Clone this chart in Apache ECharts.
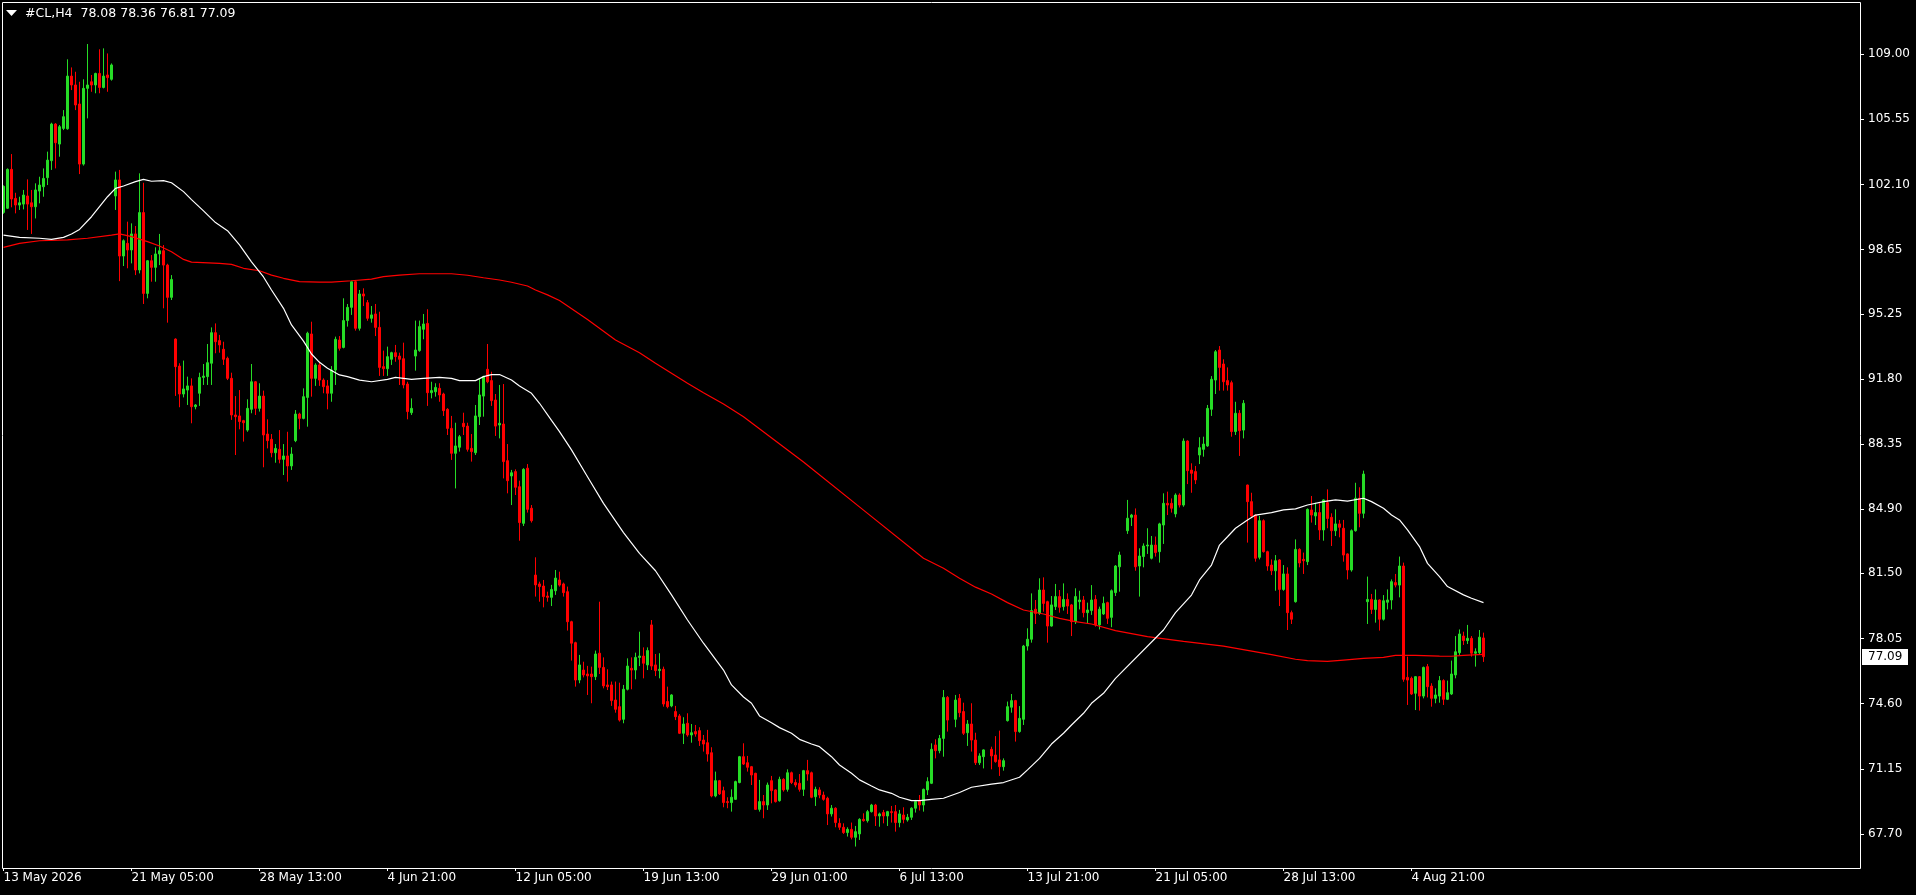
<!DOCTYPE html>
<html>
<head>
<meta charset="utf-8">
<title>#CL,H4</title>
<script src="https://cdn.jsdelivr.net/npm/echarts@6/dist/echarts.min.js"></script>
<style>
  html, body { margin: 0; padding: 0; background: #000; overflow: hidden; }
  #chart { width: 1916px; height: 895px; }
</style>
</head>
<body>
<div id="chart"></div>
<script>
var symbolTitle = '#CL,H4  78.08 78.36 76.81 77.09';
var slotCount = 465;      // bar slots across the plot, the right part stays empty
var xTickEvery = 32;      // one time label every 32 bars
var xTickLabels = ['13 May 2026', '21 May 05:00', '28 May 13:00', '4 Jun 21:00', '12 Jun 05:00',
    '19 Jun 13:00', '29 Jun 01:00', '6 Jul 13:00', '13 Jul 21:00', '21 Jul 05:00',
    '28 Jul 13:00', '4 Aug 21:00'];
var yTicks = [67.70, 71.15, 74.60, 78.05, 81.50, 84.90, 88.35, 91.80, 95.25, 98.65, 102.10, 105.55, 109.00];
var yMin = 65.894, yMax = 111.712;

// H4 bars: [open, high, low, close], null where no bar is drawn
var bars = [
    [100.62,102.05,100.55,102.00],[100.84,102.95,100.80,102.90],[102.90,103.71,100.89,101.33],[101.36,101.66,100.57,101.01],
    [101.01,101.45,100.75,101.13],[101.06,101.81,100.78,101.54],[101.49,102.37,99.69,101.06],[101.13,101.81,99.48,100.92],
    [100.92,102.16,100.30,101.81],[101.75,102.51,101.10,102.07],// 9
    [101.98,102.95,101.45,102.42],[102.46,103.84,102.07,103.39],[103.36,105.37,102.87,105.30],[105.30,105.35,102.95,104.31],
    [104.24,105.25,103.57,105.16],[105.07,106.04,104.98,105.69],[105.05,108.73,105.00,107.84],[107.84,108.30,107.10,107.37],
    [107.37,108.07,106.04,106.31],[106.36,107.54,102.65,103.18],// 19
    [103.18,107.67,103.10,107.19],[107.19,109.54,105.60,107.37],[107.54,107.90,107.01,107.37],[107.37,108.02,106.93,107.98],
    [107.98,109.26,106.93,107.24],[107.24,109.31,107.19,107.84],[107.90,109.04,107.01,107.76],[107.67,108.51,107.60,108.43],
    [101.49,102.78,100.75,102.34],[102.34,102.87,96.98,98.31],// 29
    [98.31,99.19,97.78,99.12],[98.98,100.13,97.66,98.63],[98.63,100.04,97.92,99.48],[99.48,99.90,97.30,97.57],
    [97.57,102.69,97.39,100.61],[100.61,102.19,95.77,96.33],[96.33,98.10,96.07,98.06],[98.06,98.36,96.95,97.71],
    [97.71,98.77,96.95,98.42],[98.42,99.48,97.83,98.59],// 39
    [98.59,98.89,95.54,97.83],[97.83,97.90,94.78,96.12],[96.12,97.30,95.98,97.07],[93.91,93.95,90.90,92.45],
    [92.48,92.63,90.30,91.00],[91.00,92.77,90.82,91.27],[91.21,91.92,90.42,91.43],[91.43,91.83,89.45,90.33],
    [90.33,90.47,90.19,90.42],[91.04,92.13,90.37,91.88],// 49
    [91.88,92.59,91.48,91.95],[91.92,93.65,91.48,92.66],[92.63,94.53,91.48,94.25],[94.25,94.74,93.16,93.77],
    [93.83,94.13,93.19,93.60],[93.37,93.77,92.54,92.84],[92.89,92.98,91.74,91.83],[91.83,92.13,89.63,89.89],
    [89.89,90.89,87.77,89.80],[89.84,91.21,89.13,89.54],// 59
    [89.59,89.63,88.48,89.48],[89.09,90.72,89.00,90.24],[90.19,92.59,89.98,91.65],[91.65,91.69,89.89,90.24],
    [90.24,91.57,90.07,90.89],[90.89,91.18,87.12,88.83],[88.88,89.66,88.12,88.53],[88.60,88.88,87.65,87.89],
    [87.89,88.35,87.36,88.12],[88.07,89.09,87.33,87.54],// 69
    [87.54,88.35,86.71,87.72],[87.72,89.00,86.36,87.19],[87.19,88.18,86.98,87.82],[88.53,90.15,88.45,89.94],
    [89.94,90.01,89.13,89.71],[89.71,91.30,89.66,90.86],[90.82,94.30,89.27,94.22],[94.18,94.83,90.86,91.83],
    [91.83,92.63,91.43,92.54],[92.54,92.72,91.43,91.74],// 79
    [91.74,91.83,91.04,91.39],[91.43,91.74,90.19,91.04],[91.04,92.48,90.59,92.27],[92.27,94.04,91.48,93.90],
    [93.86,94.07,93.30,93.42],[93.47,96.07,93.42,94.89],[94.89,95.77,94.57,95.59],[95.59,97.00,95.19,96.95],
    [96.95,97.04,94.36,94.48],[94.48,96.51,94.36,96.30],// 89
    [96.30,96.60,95.66,96.19],[95.84,95.98,94.88,95.01],[95.01,95.66,94.78,95.19],[95.24,95.77,94.07,94.53],
    [94.53,95.36,91.96,92.41],[92.45,93.30,91.96,92.34],[92.34,93.51,91.96,92.98],[92.84,93.24,92.54,93.19],
    [93.19,93.60,92.71,92.98],[93.01,93.19,91.48,92.84],// 99
    [92.87,93.72,91.30,91.48],[91.53,91.65,89.66,90.07],[90.01,90.77,89.89,90.24],[93.01,94.89,92.24,93.33],
    [93.30,94.89,93.24,94.57],[94.43,95.24,93.90,94.71],[94.74,95.49,90.37,91.07],[91.07,91.65,90.77,91.18],
    [91.12,91.57,90.86,91.35],[91.30,91.57,90.59,90.95],// 109
    [91.00,91.07,89.84,90.12],[90.19,90.25,88.83,89.18],[89.18,89.84,87.51,87.86],[87.86,89.48,86.00,88.25],
    [88.18,88.83,87.95,88.74],[89.45,90.01,88.83,89.27],[89.30,89.48,87.95,88.07],[88.12,88.88,87.42,87.95],
    [87.89,90.42,87.77,89.84],[89.80,91.83,89.36,90.95],// 119
    [90.89,91.97,89.80,91.92],[92.31,93.65,91.57,91.65],[91.71,92.18,90.37,90.65],[90.68,91.00,88.78,89.30],
    [89.36,91.48,88.65,89.45],[89.41,91.53,86.53,87.42],[87.47,88.35,85.74,86.41],[86.66,86.98,85.12,86.83],
    [86.89,87.01,85.65,86.06],[86.09,86.41,83.23,84.19],// 129
    [84.15,87.07,84.01,87.01],[87.07,87.29,84.72,84.89],[84.95,85.12,84.19,84.29],[81.41,82.35,80.27,80.89],
    [80.94,81.06,80.00,80.80],[80.83,81.15,79.70,80.27],[80.30,80.53,80.00,80.23],[80.23,80.89,79.77,80.65],
    [80.58,81.68,80.36,81.25],[81.15,81.59,80.80,80.88],// 139
    [80.94,81.01,80.27,80.48],[80.53,80.80,78.47,78.94],[78.94,78.99,76.88,77.80],[77.83,77.88,75.50,75.85],
    [75.85,77.18,75.68,76.65],[76.38,76.82,75.99,76.12],[76.17,76.60,75.06,76.07],[76.17,76.56,74.62,76.03],
    [76.03,77.41,75.85,77.23],[77.27,80.00,76.17,76.52],// 149
    [76.52,77.05,75.41,75.54],[75.59,76.42,75.32,75.50],[75.59,75.77,74.48,74.76],[74.79,75.77,74.12,74.30],
    [74.44,75.71,73.65,73.73],[73.77,75.59,73.56,75.36],[75.36,77.00,75.30,76.59],[76.47,77.05,75.36,76.38],
    [76.38,77.30,75.89,77.05],[77.05,78.41,76.59,77.12],// 159
    [77.12,77.58,75.94,76.74],[76.65,77.58,76.38,77.41],[78.77,79.03,76.38,76.59],[76.65,77.23,76.06,76.35],
    [76.35,77.27,75.94,76.42],[76.42,76.56,74.44,74.58],[74.71,75.50,74.35,74.44],[74.48,75.10,74.41,75.06],
    [74.18,74.48,73.73,73.91],[73.95,74.05,72.99,73.03],// 169
    [73.03,73.88,72.46,73.52],[73.56,74.09,72.85,72.94],[72.94,73.52,72.53,73.06],[73.12,73.47,72.85,72.99],
    [73.17,73.35,72.36,72.64],[72.67,72.94,72.06,72.46],[72.53,73.21,71.53,71.93],[72.00,72.29,69.64,69.71],
    [69.71,71.00,69.64,70.52],[70.52,70.56,69.76,69.82],// 179
    [69.99,70.20,69.11,69.36],[69.41,69.64,69.06,69.36],[69.36,70.06,68.88,69.64],[69.53,70.52,69.50,70.47],
    [70.42,71.83,70.38,71.79],[71.79,72.50,71.35,71.40],[71.47,71.83,71.00,71.23],[71.26,71.30,70.29,70.82],
    [70.91,70.94,68.97,69.00],[69.00,70.56,68.88,69.41],// 189
    [69.41,69.76,68.53,69.23],[69.23,70.42,68.97,70.29],[70.52,70.77,69.32,69.99],[70.03,70.06,69.36,69.41],
    [69.46,70.73,69.41,70.59],[70.59,70.65,69.94,70.03],[70.06,71.12,69.94,70.94],[70.94,71.00,70.34,70.42],
    [70.42,70.59,70.17,70.29],[70.38,70.87,69.94,70.06],// 199
    [70.06,71.09,69.71,71.05],[71.05,71.62,70.52,70.87],[70.94,71.00,69.59,69.64],[69.67,70.20,69.18,70.06],
    [70.03,70.17,69.59,69.76],[69.76,69.94,69.46,69.53],[69.59,69.67,68.17,68.76],[68.76,69.23,68.62,69.06],
    [69.06,69.11,68.05,68.30],[68.26,68.53,67.91,68.05],// 209
    [68.05,68.26,67.70,67.77],[67.77,68.05,67.56,67.94],[67.94,68.30,67.41,67.52],[67.52,68.12,67.03,67.82],
    [67.70,68.53,67.38,68.47],[68.47,68.79,68.35,68.40],[68.40,68.97,68.30,68.88],[68.88,69.29,68.83,69.23],
    [69.23,69.29,68.12,68.65],[68.65,68.83,68.08,68.76],// 219
    [68.83,68.97,68.26,68.65],[68.65,68.92,68.12,68.88],[68.88,69.18,68.30,68.83],[68.88,69.23,67.82,68.30],
    [68.30,68.97,68.05,68.76],[68.70,69.11,68.26,68.47],[68.44,68.76,68.35,68.58],[68.58,69.11,68.44,69.06],
    [69.06,69.50,68.83,69.41],[69.46,69.76,68.94,69.23],// 229
    [69.23,70.10,68.88,70.06],[70.03,70.70,69.76,70.47],[70.38,72.50,70.34,72.18],[72.41,72.71,71.70,72.11],
    [72.11,72.94,71.97,72.76],[72.76,75.32,71.79,74.93],[74.93,75.00,73.12,73.73],null,
    [73.77,75.06,73.35,74.79],[74.88,75.11,73.88,74.12],// 239
    [74.18,74.65,72.94,73.03],[73.06,73.73,72.36,73.52],[73.52,74.62,72.06,72.67],[72.67,73.06,71.35,71.47],
    [71.47,71.97,71.35,71.83],[71.79,72.18,71.17,72.15],null,[72.18,72.32,71.12,71.83],
    [71.88,72.88,71.47,71.53],[71.62,73.17,70.77,71.26],// 249
    [71.26,71.70,71.05,71.58],[73.70,74.71,73.65,74.44],[74.41,75.11,74.12,74.76],[74.76,74.80,72.59,73.12],
    [73.12,74.47,73.06,73.82],[73.77,77.71,73.47,77.65],[77.65,78.59,77.41,78.01],[78.01,80.44,77.83,79.53],
    [79.60,80.09,78.82,79.38],[79.38,81.24,79.30,80.62],// 259
    [80.62,81.29,79.47,79.91],[80.00,80.05,77.83,78.71],[78.71,80.30,78.68,79.83],[79.74,80.94,79.56,80.27],
    [80.27,80.62,79.42,79.70],[79.74,80.97,79.53,80.12],[80.12,80.44,79.35,79.77],[79.83,79.88,78.18,78.94],
    [78.94,80.71,78.82,80.27],[80.00,80.58,79.59,80.09],// 269
    [80.09,80.30,79.17,79.42],[79.42,79.95,78.85,79.56],[79.53,80.88,79.30,80.09],[80.12,80.35,78.68,78.77],
    [78.77,79.74,78.53,79.60],[79.35,80.27,79.30,79.91],[79.95,80.00,78.82,79.12],[79.17,80.65,78.65,80.58],
    [80.48,81.94,80.30,81.89],[81.85,82.65,80.53,82.47],// 279
    null,[83.76,85.39,83.59,84.42],[84.47,84.65,84.01,84.59],[84.59,84.94,81.64,81.85],
    [81.89,82.83,80.27,82.42],[82.39,83.09,81.82,82.95],[82.95,83.89,82.53,83.00],[82.30,83.48,82.24,83.00],
    [83.00,83.45,82.39,82.60],[82.65,84.18,82.07,84.12],// 289
    [84.06,85.74,83.06,85.21],[85.21,85.83,84.59,85.12],[85.21,85.47,84.72,84.95],[84.65,85.74,84.47,85.65],
    [85.65,85.74,84.99,85.12],[85.12,88.65,85.03,88.51],[88.51,88.55,86.23,86.94],[86.97,87.33,85.77,86.80],
    [86.89,87.19,86.23,86.45],[87.77,88.71,87.29,88.16],// 299
    [88.07,88.74,87.68,88.35],[88.25,90.42,88.20,90.24],[90.19,91.95,89.84,91.78],[91.74,93.33,91.00,93.24],
    [93.33,93.54,91.18,92.41],[92.59,92.84,91.18,91.65],[91.71,92.41,91.18,91.48],[91.60,91.71,88.74,89.01],
    [89.01,90.59,88.83,89.98],[89.98,90.15,87.72,89.06],// 309
    [89.09,90.68,88.65,90.51],[86.18,86.20,83.13,85.30],[85.30,85.77,84.50,84.54],[84.59,84.62,82.12,82.30],
    [82.35,84.54,82.24,84.29],[84.29,84.36,82.60,82.65],[82.65,82.70,81.64,81.89],[81.94,82.24,81.41,81.64],
    [81.64,82.47,80.58,82.17],[82.21,82.25,79.77,80.65],// 319
    [80.65,81.94,80.58,81.47],[81.47,81.82,78.50,79.42],[79.42,79.53,78.82,79.07],[80.00,83.30,79.95,82.77],
    [82.77,82.83,81.82,82.05],[82.24,82.60,81.47,82.17],[82.12,84.94,81.94,84.89],[84.86,85.60,84.19,84.59],
    [84.54,85.24,84.06,84.72],[84.72,85.21,83.27,83.80],// 329
    [83.80,85.42,83.23,85.39],[85.24,85.95,83.89,84.41],[84.47,84.68,82.95,83.76],[83.76,84.89,83.48,84.12],
    [84.12,84.33,83.41,83.94],[83.89,84.33,82.12,82.47],[82.53,82.56,81.18,81.68],[81.68,83.83,81.59,83.76],
    [83.76,86.30,83.71,85.48],[85.48,86.06,83.94,84.68],// 339
    [84.68,86.94,84.42,86.76],[80.00,81.33,78.82,80.12],[80.12,80.41,79.35,79.59],[79.59,80.65,78.89,80.09],
    [80.09,80.12,78.47,79.07],[79.07,80.35,79.00,80.05],[79.97,80.65,79.59,80.09],[80.09,81.18,79.59,81.06],
    [81.01,81.47,80.76,80.88],[80.88,82.39,80.23,81.89],// 349
    [81.89,82.07,75.76,75.89],[75.99,77.09,74.53,75.85],[75.94,76.03,75.06,75.11],[75.15,76.06,74.26,76.03],
    [76.03,76.06,74.23,75.00],[75.00,76.56,74.88,76.52],[76.56,76.70,74.93,75.50],[75.53,75.68,74.44,74.88],
    [74.88,75.41,74.62,75.06],[75.00,76.06,74.65,75.82],// 359
    [75.82,75.89,74.53,74.83],[74.83,75.82,74.79,75.18],[75.11,76.88,75.06,76.17],[76.12,78.18,75.94,77.35],
    [77.30,78.53,77.18,78.29],[78.18,78.41,77.71,77.94],[77.94,78.77,77.76,78.06],[78.06,78.18,77.09,77.27],
    [77.27,77.53,76.56,77.35],[77.30,78.50,77.23,78.12],// 369
    [78.08,78.36,76.81,77.09]
];

// white moving average, read at [bar, price]
var maFast = [
    [0,99.42],[4,99.30],[9,99.25],[12,99.19],[15,99.30],[17,99.48],[19,99.72],[22,100.39],[24,100.92],
    [26,101.45],[28,101.89],[30,102.02],[33,102.25],[35,102.37],[37,102.27],[40,102.30],[42,102.19],
    [45,101.72],[47,101.30],[50,100.70],[53,100.08],[56,99.65],[59,98.90],[62,98.00],[65,97.20],
    [67,96.51],[70,95.54],[72,94.66],[75,93.80],[77,93.12],[79,92.68],[81,92.36],[84,92.01],[86,91.92],
    [89,91.74],[92,91.65],[96,91.78],[98,91.88],[102,91.78],[105,91.83],[109,91.88],[112,91.83],
    [114,91.71],[118,91.71],[120,91.92],[122,92.03],[124,92.03],[127,91.74],[129,91.42],[132,91.04],
    [134,90.51],[137,89.60],[139,89.01],[142,88.04],[146,86.62],[150,85.21],[155,83.66],[159,82.56],
    [163,81.64],[167,80.36],[171,79.03],[175,77.80],[180,76.38],[182,75.59],[185,74.95],[187,74.62],
    [189,73.95],[192,73.59],[194,73.33],[197,73.03],[199,72.71],[202,72.46],[204,72.32],[207,71.79],
    [209,71.35],[212,70.91],[214,70.56],[217,70.24],[219,70.03],[222,69.85],[224,69.64],[227,69.46],
    [229,69.46],[232,69.53],[235,69.59],[239,69.89],[242,70.17],[247,70.34],[250,70.42],[254,70.70],
    [256,71.09],[259,71.70],[262,72.46],[265,73.03],[267,73.47],[270,74.09],[272,74.62],[275,75.15],
    [278,75.94],[290,78.50],[293,79.42],[297,80.35],[299,81.15],[302,81.94],[304,83.00],[306,83.44],
    [308,83.89],[311,84.33],[313,84.59],[317,84.72],[320,84.86],[323,84.92],[326,85.12],[330,85.30],
    [333,85.39],[336,85.33],[340,85.48],[342,85.30],[345,84.95],[347,84.59],[349,84.33],[351,83.80],
    [354,82.92],[356,82.03],[359,81.33],[361,80.80],[365,80.36],[367,80.18],[370,79.95]
];

// red moving average, read at [bar, price]
var maSlow = [
    [0,98.77],[4,98.98],[9,99.12],[16,99.16],[21,99.25],[27,99.42],[29,99.48],[32,99.34],[36,99.07],
    [39,98.84],[42,98.54],[45,98.13],[47,97.99],[54,97.92],[57,97.87],[60,97.66],[64,97.53],[67,97.30],
    [70,97.13],[74,96.95],[79,96.93],[82,96.93],[87,97.00],[92,97.09],[95,97.22],[99,97.30],[104,97.37],
    [112,97.37],[116,97.29],[120,97.16],[124,97.04],[127,96.92],[131,96.72],[133,96.51],[136,96.25],
    [139,95.95],[146,94.95],[153,93.86],[159,93.19],[163,92.63],[167,92.10],[171,91.57],[175,91.07],
    [180,90.47],[185,89.80],[200,87.40],[215,84.85],[230,82.30],[235,81.77],[239,81.24],[243,80.77],
    [247,80.41],[251,79.95],[255,79.56],[260,79.35],[264,79.12],[268,78.94],[272,78.82],[278,78.47],
    [286,78.15],[295,77.90],[305,77.65],[317,77.20],[323,76.95],[326,76.88],[331,76.84],[335,76.91],
    [340,77.00],[345,77.05],[348,77.16],[353,77.16],[359,77.12],[362,77.11],[365,77.16],[370,77.21]
];

var upColor = '#26dc26';
var downColor = '#ff0000';
var font = 'DejaVu Sans';

var slots = [];
for (var s = 0; s < slotCount; s++) slots.push(String(s));

// echarts wants [open, close, low, high]
var candleData = bars.map(function (b) {
    return b ? [b[0], b[3], b[2], b[1]] : ['-', '-', '-', '-'];
});

function isTimeTick(index) {
    return index % xTickEvery === 0 && index / xTickEvery < xTickLabels.length;
}

var chart = echarts.init(document.getElementById('chart'));
chart.setOption({
    backgroundColor: '#000',
    animation: false,
    grid: { left: 1.5, top: 3, width: 1860, height: 865 },
    xAxis: {
        type: 'category',
        data: slots,
        boundaryGap: true,
        axisLine: { show: false },
        axisTick: {
            show: true, alignWithLabel: true, interval: isTimeTick, length: 3,
            lineStyle: { color: '#fff' }
        },
        axisLabel: {
            interval: isTimeTick,
            formatter: function (v, index) { return xTickLabels[index / xTickEvery] || ''; },
            color: '#fff', fontFamily: font, fontSize: 12, align: 'left', margin: 4
        },
        splitLine: { show: false }
    },
    yAxis: {
        type: 'value',
        position: 'right',
        offset: -1.5,
        min: yMin,
        max: yMax,
        scale: true,
        axisLine: { show: false },
        axisTick: { show: true, length: 4, customValues: yTicks, lineStyle: { color: '#fff' } },
        axisLabel: {
            customValues: yTicks,
            formatter: function (v) { return v.toFixed(2); },
            color: '#fff', fontFamily: font, fontSize: 12, margin: 8
        },
        splitLine: { show: false }
    },
    series: [
        {
            type: 'candlestick',
            data: candleData,
            barWidth: 2,
            itemStyle: {
                color: upColor, color0: downColor,
                borderColor: upColor, borderColor0: downColor,
                borderWidth: 1
            }
        },
        {
            type: 'line',
            data: maSlow,
            symbol: 'none',
            lineStyle: { color: '#ff0000', width: 1.2 },
            z: 3
        },
        {
            type: 'line',
            data: maFast,
            symbol: 'none',
            lineStyle: { color: '#ffffff', width: 1.2 },
            z: 4
        }
    ]
});

// frame, title and the last-price box
var last = bars[bars.length - 1];
var lastY = chart.convertToPixel({ yAxisIndex: 0 }, last[3]);
chart.setOption({
    graphic: [
        {
            type: 'rect', silent: true, z: 100,
            shape: { x: 2.5, y: 2.5, width: 1858, height: 866 },
            style: { fill: null, stroke: '#fff', lineWidth: 1 }
        },
        {
            type: 'polygon', silent: true, z: 100,
            shape: { points: [[6, 10], [17, 10], [11.5, 16]] },
            style: { fill: '#fff' }
        },
        {
            type: 'text', silent: true, z: 100, x: 25, y: 14,
            style: { text: symbolTitle, fill: '#fff', fontFamily: font, fontSize: 12.5, verticalAlign: 'middle' }
        },
        {
            type: 'rect', silent: true, z: 100,
            shape: { x: 1862, y: Math.round(lastY) - 8, width: 46, height: 16 },
            style: { fill: '#fff' }
        },
        {
            type: 'text', silent: true, z: 101, x: 1868, y: Math.round(lastY),
            style: { text: last[3].toFixed(2), fill: '#000', fontFamily: font, fontSize: 12, verticalAlign: 'middle' }
        }
    ]
});
</script>
</body>
</html>
